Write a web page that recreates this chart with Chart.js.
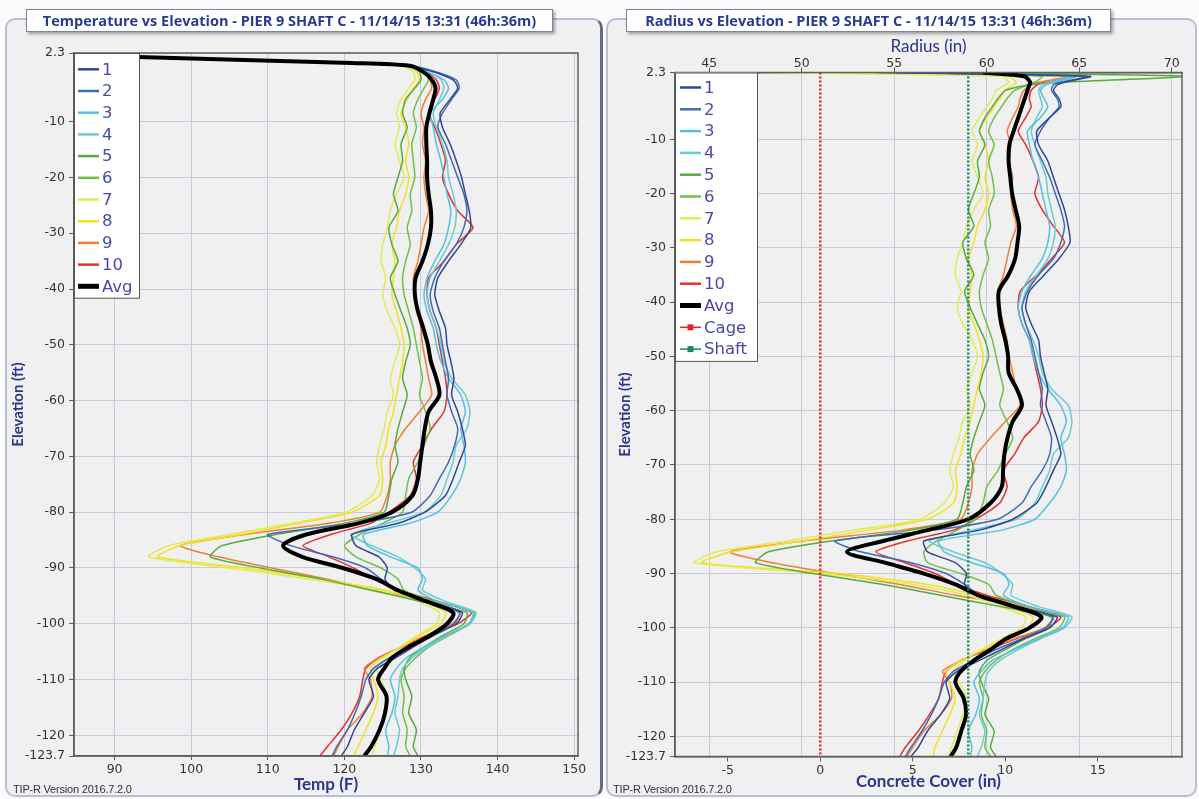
<!DOCTYPE html>
<html>
<head>
<meta charset="utf-8">
<script src="https://cdn.jsdelivr.net/npm/chart.js@4.4.0/dist/chart.umd.min.js"></script>
<style>
  body { margin: 0; width: 1199px; height: 799px; background: #fbfbfb; position: relative; overflow: hidden; }
  .frame { position: absolute; top: 18px; height: 779px; box-sizing: border-box; border: 2px solid #b9bfd3; border-radius: 10px; background: #f0f0f0; z-index: 1; }
  .title { position: absolute; top: 9px; height: 23px; box-sizing: border-box; background: #fff; border: 1px solid #7c83a8;
           box-shadow: 2px 2px 3px rgba(0,0,0,0.35); color: #2a3b8f; font: bold 14.5px 'Open Sans', sans-serif; line-height: 21px; text-align: center; z-index: 3; }
  canvas { position: absolute; top: 0; z-index: 2; }
  .ver { position: absolute; top: 783px; font: 11px 'Liberation Sans Narrow', 'Liberation Sans', sans-serif; color: #333; z-index: 3; letter-spacing: -0.2px; }
</style>
</head>
<body>
<div class="frame" style="left:5px; width:598px; border-right: 3px solid #626a84;"></div>
<div class="frame" style="left:606px; width:591px;"></div>
<div class="title" style="left:26px; width:527px;">Temperature vs Elevation - PIER 9 SHAFT C - 11/14/15 13:31 (46h:36m)</div>
<div class="title" style="left:626px; width:485px;">Radius vs Elevation - PIER 9 SHAFT C - 11/14/15 13:31 (46h:36m)</div>
<canvas id="tempChart" width="600" height="799" style="left:0px;"></canvas>
<canvas id="radiusChart" width="596" height="799" style="left:603px;"></canvas>
<div class="ver" style="left:13px;">TIP-R Version 2016.7.2.0</div>
<div class="ver" style="left:613px;">TIP-R Version 2016.7.2.0</div>
<script>
// depth samples (ft), shared by both panels
const elevation = [2.3, 1.6, 0.5, 0, -1, -2.5, -4, -6, -8.5, -11,
  -14, -17, -20, -23, -26, -29, -32, -35, -38, -41,
  -44, -47, -50, -53, -56, -59, -62, -65, -68, -71,
  -74, -77, -80, -82, -84, -86, -88, -90, -92, -94,
  -96, -98, -100, -102, -104, -106, -108, -110, -113, -116,
  -119, -122, -123.7];

const seriesLabels = ['1', '2', '3', '4', '5', '6', '7', '8', '9', '10'];
const seriesColors = ['#2f4896', '#3d6cb3', '#56bfe4', '#66cdd2', '#55ab3e', '#70c049', '#e2ea56', '#f3e11e', '#ee7f37', '#e5302a'];

const tempTicks = [90, 100, 110, 120, 130, 140, 150];
const elevTicks = [2.3, -10, -20, -30, -40, -50, -60, -70, -80, -90, -100, -110, -120, -123.7];
const radiusTicks = [45, 50, 55, 60, 65, 70];
const coverTicks = [-5, 0, 5, 10, 15];

// temperature (F)
const temp1 = [80, 92, 119, 128, 131.5, 134.2, 134.8, 133.8, 132.5, 132.8,
  133.8, 134.6, 135.3, 135.8, 136.3, 136.5, 135.2, 133.6, 132.2, 131.8,
  132.4, 133.2, 133.4, 133.9, 134.3, 134.0, 134.8, 135.4, 135.8, 135.0,
  134.2, 133.2, 130.5, 127.0, 121.0, 121.5, 124.5, 125.6, 125.3, 126.6,
  130.8, 135.4, 134.6, 131.8, 129.2, 126.8, 124.3, 123.2, 123.8, 122.6,
  121.3, 120.4, 119.6];
const temp2 = [80, 93, 120, 128.5, 131.8, 134.6, 135.0, 134.0, 132.8, 132.2,
  133.2, 134.0, 134.8, 135.6, 136.0, 135.6, 134.6, 133.0, 131.8, 131.2,
  131.6, 132.4, 132.8, 133.2, 133.6, 133.4, 134.0, 134.8, 134.4, 133.6,
  132.4, 131.2, 128.8, 121.5, 110.0, 113.0, 118.5, 122.8, 124.8, 126.8,
  131.0, 135.0, 134.3, 131.5, 128.6, 126.0, 123.8, 122.8, 122.2, 121.4,
  120.4, 119.0, 118.4];
const temp3 = [80, 92.5, 119, 127.5, 130.5, 133.0, 133.6, 132.8, 131.2, 131.6,
  132.0, 132.6, 133.0, 133.4, 133.9, 133.6, 133.0, 131.8, 130.8, 130.4,
  130.8, 131.6, 132.0, 132.6, 133.6, 135.2, 135.8, 135.2, 135.6, 135.8,
  135.2, 134.0, 132.2, 128.5, 122.5, 123.0, 126.0, 129.6, 130.2, 129.6,
  132.2, 136.8, 136.2, 133.4, 130.6, 128.2, 126.8, 126.0, 126.6, 126.2,
  125.4, 125.8, 125.6];
const temp4 = [80, 93, 120, 128, 130.8, 132.6, 133.0, 132.4, 131.6, 132.0,
  132.8, 133.4, 133.6, 134.2, 134.6, 134.4, 133.6, 132.4, 131.2, 130.8,
  131.2, 132.0, 132.6, 133.0, 134.0, 135.8, 136.4, 136.0, 134.6, 134.2,
  133.4, 132.6, 130.4, 125.6, 120.8, 123.6, 127.0, 129.2, 130.6, 130.2,
  133.2, 137.2, 136.4, 133.6, 131.0, 129.0, 127.6, 127.2, 127.0, 126.6,
  127.2, 126.8, 126.4];
const temp5 = [82, 95, 122, 128.5, 129.8, 130.0, 129.2, 128.0, 127.6, 128.2,
  127.4, 127.6, 127.0, 126.4, 127.0, 125.8, 126.2, 127.0, 126.0, 126.6,
  127.4, 128.2, 128.6, 128.0, 127.6, 128.2, 127.6, 127.0, 126.6, 127.0,
  126.2, 125.8, 125.2, 120.0, 111.0, 104.0, 102.5, 109.0, 117.0, 123.5,
  130.0, 136.0, 135.6, 133.0, 130.6, 128.6, 127.8, 128.0, 128.8, 128.4,
  129.4, 129.0, 129.6];
const temp6 = [81, 94, 121.5, 128.8, 130.5, 131.0, 130.4, 129.6, 129.0, 129.4,
  128.8, 129.0, 129.2, 128.6, 128.8, 128.2, 128.6, 128.0, 127.6, 127.8,
  128.4, 129.0, 129.4, 129.8, 130.2, 129.8, 130.6, 131.2, 130.4, 129.6,
  128.4, 128.0, 127.6, 125.0, 122.0, 120.0, 121.5, 124.8, 127.0, 127.8,
  131.8, 137.0, 136.4, 133.8, 131.2, 129.4, 128.0, 127.4, 127.8, 127.6,
  128.2, 128.0, 128.6];
const temp7 = [82, 95, 121, 127.5, 129.0, 129.2, 128.4, 127.4, 126.8, 127.2,
  126.6, 127.2, 127.8, 126.8, 126.0, 125.6, 125.0, 124.8, 125.4, 125.0,
  125.6, 126.6, 127.2, 126.6, 126.0, 126.4, 125.6, 125.2, 124.6, 124.2,
  124.6, 123.6, 120.2, 113.0, 105.0, 97.0, 94.4, 105.0, 115.5, 124.5,
  129.5, 132.4, 132.0, 129.6, 127.4, 125.4, 124.2, 124.8, 125.6, 125.2,
  124.6, 124.0, 123.6];
const temp8 = [82, 95, 121, 127.8, 129.4, 129.8, 129.0, 128.2, 127.4, 128.0,
  128.4, 128.0, 128.4, 128.0, 127.2, 126.8, 126.2, 126.6, 126.4, 126.2,
  126.8, 127.4, 127.8, 127.6, 127.2, 126.8, 126.4, 125.8, 125.4, 124.8,
  125.0, 124.6, 121.0, 114.0, 106.5, 98.5, 95.6, 107.0, 117.0, 125.5,
  130.5, 133.2, 132.6, 130.0, 127.6, 125.0, 123.4, 123.8, 124.4, 123.8,
  122.8, 121.8, 121.2];
const temp9 = [81, 94, 121, 128.4, 130.4, 131.2, 131.4, 130.6, 130.0, 130.4,
  130.2, 130.6, 130.4, 130.6, 131.0, 130.4, 130.0, 129.6, 129.0, 129.2,
  129.6, 130.0, 130.2, 130.6, 131.0, 131.4, 129.8, 128.0, 126.6, 126.0,
  126.0, 125.6, 124.6, 118.0, 107.0, 98.6, 103.5, 110.5, 117.8, 124.0,
  131.6, 135.2, 134.0, 130.8, 127.6, 124.6, 122.6, 123.4, 123.6, 122.4,
  120.4, 119.2, 118.6];
const temp10 = [80, 93, 120, 128.2, 130.6, 132.0, 132.4, 131.8, 131.0, 131.8,
  132.6, 133.2, 132.8, 133.6, 134.8, 136.8, 134.6, 133.0, 131.0, 130.8,
  131.2, 132.0, 132.4, 132.8, 133.2, 133.4, 133.0, 131.4, 130.2, 129.0,
  129.4, 128.6, 125.8, 123.4, 118.2, 114.6, 118.0, 121.2, 123.8, 127.2,
  132.2, 136.6, 134.8, 131.0, 127.8, 124.6, 122.8, 122.4, 122.0, 121.0,
  119.6, 117.8, 116.8];
const tempAvg = [80, 93, 121, 128.5, 130.2, 131.4, 131.9, 131.6, 131.1, 130.7,
  130.7, 130.8, 130.8, 131.0, 131.3, 131.3, 130.9, 130.2, 129.3, 129.2,
  129.6, 130.3, 130.9, 131.3, 132.0, 132.4, 131.0, 130.5, 130.2, 129.9,
  129.6, 128.9, 126.2, 121.8, 115.0, 112.0, 114.5, 119.8, 124.2, 127.0,
  130.7, 134.2, 133.4, 131.3, 128.6, 126.3, 125.2, 124.4, 125.5, 125.3,
  124.6, 123.5, 122.6];

// concrete cover (in)
const cover1 = [4.0, 14.6, 13.2, 12.8, 12.6, 12.9, 13.0, 12.4, 11.7, 11.8,
  12.3, 12.6, 12.9, 13.2, 13.4, 13.5, 12.9, 12.1, 11.3, 11.1,
  11.4, 11.8, 11.9, 12.1, 12.3, 12.2, 12.5, 12.8, 13.0, 12.6,
  12.2, 11.7, 10.4, 8.6, 5.6, 5.8, 7.3, 7.9, 7.8, 8.4,
  10.5, 12.8, 12.4, 11.0, 9.8, 8.6, 7.4, 6.8, 7.0, 6.5,
  5.8, 5.3, 4.9];
const cover2 = [3.0, 14.4, 13.0, 12.6, 12.5, 12.8, 12.9, 12.4, 11.9, 11.6,
  12.0, 12.4, 12.7, 13.0, 13.2, 13.0, 12.6, 11.8, 11.2, 10.9,
  11.1, 11.4, 11.6, 11.8, 12.0, 11.9, 12.2, 12.5, 12.4, 12.0,
  11.4, 10.9, 9.6, 6.2, 0.8, 2.2, 4.9, 6.8, 7.8, 8.6,
  10.6, 12.6, 12.2, 10.9, 9.5, 8.3, 7.2, 6.7, 6.4, 6.0,
  5.5, 4.9, 4.6];
const cover3 = [5.0, 13.8, 12.6, 12.2, 11.9, 12.1, 12.3, 11.9, 11.2, 11.3,
  11.5, 11.8, 12.0, 12.2, 12.4, 12.3, 12.0, 11.4, 10.9, 10.7,
  10.9, 11.3, 11.5, 11.8, 12.3, 13.0, 13.3, 13.0, 13.2, 13.3,
  13.0, 12.4, 11.6, 9.8, 6.4, 6.7, 8.2, 9.9, 10.2, 9.9,
  11.2, 13.4, 13.1, 11.8, 10.5, 9.3, 8.7, 8.3, 8.6, 8.4,
  8.0, 8.2, 8.1];
const cover4 = [4.5, 13.6, 12.4, 12.0, 11.8, 11.9, 12.0, 11.7, 11.4, 11.6,
  11.9, 12.2, 12.3, 12.5, 12.7, 12.6, 12.3, 11.7, 11.1, 10.9,
  11.1, 11.5, 11.8, 12.0, 12.5, 13.4, 13.6, 13.4, 12.6, 12.4,
  12.0, 11.6, 10.6, 8.2, 5.9, 7.2, 8.9, 9.8, 10.4, 10.3,
  11.7, 13.6, 13.2, 11.9, 10.7, 9.7, 9.1, 8.9, 8.8, 8.6,
  8.9, 8.7, 8.5];
const cover5 = [6.0, 19.8, 13.0, 11.2, 10.0, 9.6, 9.3, 8.9, 8.6, 8.9,
  8.5, 8.6, 8.3, 8.0, 8.3, 7.7, 7.9, 8.3, 7.8, 8.1,
  8.5, 8.9, 9.1, 8.8, 8.6, 8.9, 8.6, 8.3, 8.1, 8.3,
  7.9, 7.7, 7.4, 4.9, 0.6, -2.8, -3.5, -0.4, 3.4, 6.5,
  9.6, 12.5, 12.3, 11.1, 10.0, 9.0, 8.6, 8.7, 9.1, 8.9,
  9.4, 9.2, 9.5];
const cover6 = [5.5, 12.0, 11.6, 11.2, 10.5, 10.1, 9.8, 9.4, 9.1, 9.4,
  9.1, 9.3, 9.4, 9.1, 9.2, 8.9, 9.1, 8.8, 8.6, 8.7,
  9.0, 9.3, 9.5, 9.7, 9.9, 9.7, 10.1, 10.4, 10.0, 9.6,
  9.0, 8.8, 8.4, 7.4, 6.3, 5.6, 5.8, 7.6, 9.1, 9.5,
  11.1, 13.2, 12.9, 11.6, 10.4, 9.5, 8.9, 8.6, 8.8, 8.7,
  9.0, 8.9, 9.2];
const cover7 = [-3.2, 9.8, 10.2, 10.0, 9.5, 9.3, 9.0, 8.6, 8.2, 8.5,
  8.2, 8.5, 8.8, 8.3, 7.9, 7.7, 7.4, 7.3, 7.6, 7.4,
  7.7, 8.2, 8.5, 8.2, 7.9, 8.1, 7.7, 7.5, 7.2, 7.0,
  7.2, 6.7, 5.4, 1.8, -1.8, -5.6, -6.8, 0.0, 5.0, 8.0,
  9.6, 11.1, 10.9, 9.8, 8.7, 7.8, 7.2, 7.5, 7.9, 7.7,
  7.4, 7.1, 6.9];
const cover8 = [-1.0, 10.2, 10.6, 10.4, 10.0, 9.7, 9.4, 9.0, 8.6, 8.9,
  9.1, 8.9, 9.1, 8.9, 8.5, 8.3, 8.0, 8.2, 8.1, 8.0,
  8.3, 8.6, 8.8, 8.7, 8.5, 8.3, 8.1, 7.8, 7.6, 7.3,
  7.4, 7.2, 5.8, 2.6, -1.0, -4.8, -6.4, 1.0, 5.8, 8.5,
  10.0, 11.5, 11.2, 10.0, 8.8, 7.6, 6.8, 7.0, 7.3, 7.0,
  6.6, 6.2, 6.1];
const cover9 = [1.0, 13.4, 11.8, 11.4, 11.0, 10.8, 10.7, 10.4, 10.1, 10.3,
  10.2, 10.4, 10.3, 10.4, 10.6, 10.3, 10.1, 9.9, 9.6, 9.7,
  9.9, 10.1, 10.2, 10.4, 10.6, 10.8, 10.0, 9.2, 8.5, 8.2,
  8.2, 8.0, 7.6, 4.4, -0.9, -4.9, -2.6, 0.8, 4.3, 7.3,
  10.9, 12.6, 12.1, 10.5, 9.0, 7.6, 6.6, 7.0, 7.1, 6.5,
  5.6, 5.0, 4.7];
const cover10 = [2.0, 13.8, 12.2, 11.7, 11.4, 11.3, 11.4, 11.1, 10.7, 11.1,
  11.5, 11.8, 11.6, 12.0, 12.6, 13.2, 12.5, 11.7, 10.8, 10.7,
  10.9, 11.3, 11.5, 11.7, 11.9, 12.0, 11.8, 11.0, 10.5, 9.9,
  10.1, 9.7, 8.4, 7.2, 4.7, 3.0, 4.6, 6.2, 7.4, 9.0,
  11.2, 13.0, 12.3, 10.6, 9.1, 7.6, 6.8, 6.6, 6.4, 5.9,
  5.3, 4.6, 4.3];
const coverAvg = [8.8, 11.0, 11.35, 11.3, 11.2, 11.05, 10.9, 10.7, 10.45, 10.22,
  10.18, 10.27, 10.37, 10.56, 10.75, 10.66, 10.53, 10.17, 9.65, 9.66,
  9.78, 10.0, 10.15, 10.18, 10.62, 10.9, 10.4, 10.12, 9.95, 9.88,
  9.81, 9.2, 8.0, 5.8, 3.4, 1.45, 3.5, 5.6, 7.3, 8.55,
  10.4, 11.95, 11.3, 10.05, 9.2, 8.3, 7.6, 7.3, 7.75, 7.88,
  7.62, 7.35, 7.05];

// cage and shaft reference lines (cover, in)
const refElev = [2.3, -123.7];
const cageCover = [0, 0];
const shaftCover = [8, 8];

const gridColor = '#c9c9df';
const axisColor = '#5a5a5a';
const titleColor = '#2d358c';
const tickFont = { family: 'DejaVu Sans', size: 12.5 };

function fixedTicks(list) {
  return scale => { scale.ticks = list.map(v => ({ value: v })); };
}

function lineSet(label, xs, color, width) {
  return {
    label: label,
    data: elevation.map((e, i) => ({ x: xs[i], y: e })),
    borderColor: color,
    backgroundColor: color,
    borderWidth: width,
    pointRadius: 0,
    showLine: true,
    tension: 0.2
  };
}

function refSet(label, xs, color) {
  return {
    label: label,
    data: refElev.map((e, i) => ({ x: xs[i], y: e })),
    borderColor: color,
    backgroundColor: color,
    borderWidth: 2.5,
    borderDash: [2, 2],
    pointRadius: 0,
    showLine: true,
    marker: true,
    order: -2
  };
}

// legend box inside the plot + frame around the plot area
const panelPlugin = {
  id: 'panelPlugin',
  afterDraw(chart, args, opts) {
    const { ctx, chartArea } = chart;
    ctx.save();
    ctx.strokeStyle = '#606060';
    ctx.lineWidth = 1.5;
    ctx.strokeRect(chartArea.left, chartArea.top, chartArea.right - chartArea.left, chartArea.bottom - chartArea.top);

    const sets = chart.data.datasets;
    const x0 = chartArea.left, y0 = chartArea.top;
    const h = sets.length * opts.rowHeight + opts.extra;
    ctx.fillStyle = '#fff';
    ctx.fillRect(x0, y0, opts.width, h);
    ctx.strokeStyle = '#555';
    ctx.lineWidth = 1;
    ctx.strokeRect(x0 + 0.5, y0 + 0.5, opts.width, h);
    ctx.font = '16.5px "DejaVu Sans"';
    ctx.textBaseline = 'middle';
    sets.forEach((ds, i) => {
      const cy = y0 + opts.first + i * opts.rowHeight;
      ctx.strokeStyle = ds.borderColor;
      ctx.lineWidth = ds.label === 'Avg' ? 5 : (ds.marker ? 1.5 : 2.5);
      ctx.beginPath();
      ctx.moveTo(x0 + opts.lineStart, cy);
      ctx.lineTo(x0 + opts.lineEnd, cy);
      ctx.stroke();
      if (ds.marker) {
        const mx = x0 + (opts.lineStart + opts.lineEnd) / 2;
        ctx.fillStyle = ds.borderColor;
        ctx.fillRect(mx - 3, cy - 3, 6, 6);
      }
      ctx.fillStyle = '#4a4aa4';
      ctx.fillText(ds.label, x0 + opts.textStart, cy + 1);
    });
    ctx.restore();
  }
};

function yAxis(width, titlePad) {
  return {
    type: 'linear',
    min: -123.7,
    max: 2.3,
    afterBuildTicks: fixedTicks(elevTicks),
    afterFit: s => { s.width = width; },
    grid: { color: gridColor, tickColor: axisColor, tickLength: 5 },
    border: { color: axisColor, width: 1.5 },
    ticks: { font: tickFont, color: '#333', padding: 4, autoSkip: false, callback: v => String(v) },
    title: { display: true, text: 'Elevation (ft)', color: titleColor, font: { family: 'Lato', size: 15, weight: 'bold' }, padding: { top: titlePad, bottom: 0 } }
  };
}

const tempData = [temp1, temp2, temp3, temp4, temp5, temp6, temp7, temp8, temp9, temp10];
const coverData = [cover1, cover2, cover3, cover4, cover5, cover6, cover7, cover8, cover9, cover10];

new Chart(document.getElementById('tempChart'), {
  type: 'scatter',
  data: {
    datasets: tempData.map((xs, i) => lineSet(seriesLabels[i], xs, seriesColors[i], 1.5))
      .concat([Object.assign(lineSet('Avg', tempAvg, '#000', 4), { order: -1, tension: 0.3 })])
  },
  options: {
    responsive: false,
    animation: false,
    devicePixelRatio: 1,
    layout: { padding: { left: 0, right: 22, top: 53, bottom: 0 } },
    plugins: {
      legend: { display: false },
      tooltip: { enabled: false },
      panelPlugin: { width: 65, rowHeight: 21.7, extra: 6, first: 16.3, lineStart: 4, lineEnd: 25, textStart: 28 }
    },
    scales: {
      x: {
        type: 'linear',
        position: 'bottom',
        min: 84.7,
        max: 150.5,
        afterBuildTicks: fixedTicks(tempTicks),
        afterFit: s => { s.height = 43; },
        grid: { color: gridColor, tickColor: axisColor, tickLength: 4 },
        border: { color: axisColor, width: 1.5 },
        ticks: { font: tickFont, color: '#333', padding: 2, maxRotation: 0, autoSkip: false },
        title: { display: true, text: 'Temp (F)', color: titleColor, font: { family: 'Lato', size: 17, weight: 'bold' }, padding: { top: 0, bottom: 4 } }
      },
      y: yAxis(74, 9)
    }
  },
  plugins: [panelPlugin]
});

new Chart(document.getElementById('radiusChart'), {
  type: 'scatter',
  data: {
    datasets: coverData.map((xs, i) => lineSet(seriesLabels[i], xs, seriesColors[i], 1.5))
      .concat([Object.assign(lineSet('Avg', coverAvg, '#000', 4), { order: -1, tension: 0.3 })])
      .concat([refSet('Cage', cageCover, '#e3262b'), refSet('Shaft', shaftCover, '#178a5c')])
  },
  options: {
    responsive: false,
    animation: false,
    devicePixelRatio: 1,
    layout: { padding: { left: 0, right: 17, top: 0, bottom: 0 } },
    plugins: {
      legend: { display: false },
      tooltip: { enabled: false },
      panelPlugin: { width: 82, rowHeight: 21.8, extra: 5, first: 15, lineStart: 5, lineEnd: 26, textStart: 29 }
    },
    scales: {
      x: {
        type: 'linear',
        position: 'bottom',
        min: -7.85,
        max: 19.55,
        afterBuildTicks: fixedTicks(coverTicks),
        afterFit: s => { s.height = 42.5; },
        grid: { drawOnChartArea: false, tickColor: axisColor, tickLength: 5 },
        border: { color: axisColor, width: 1.5 },
        ticks: { font: tickFont, color: '#333', padding: 2, maxRotation: 0, autoSkip: false },
        title: { display: true, text: 'Concrete Cover (in)', color: titleColor, font: { family: 'Lato', size: 17, weight: 'bold' }, padding: { top: 0, bottom: 7 } }
      },
      x2: {
        type: 'linear',
        position: 'top',
        min: 43.15,
        max: 70.55,
        afterBuildTicks: fixedTicks(radiusTicks),
        afterFit: s => { s.height = 72.5; },
        grid: { color: gridColor, tickColor: axisColor, tickLength: 5 },
        border: { color: axisColor, width: 1.5 },
        ticks: { font: tickFont, color: '#333', padding: -4, maxRotation: 0, autoSkip: false },
        title: { display: true, text: 'Radius (in)', color: titleColor, font: { family: 'Lato', size: 17 }, padding: { top: 36, bottom: 0 } }
      },
      y: yAxis(72, 13)
    }
  },
  plugins: [panelPlugin]
});
</script>
</body>
</html>
